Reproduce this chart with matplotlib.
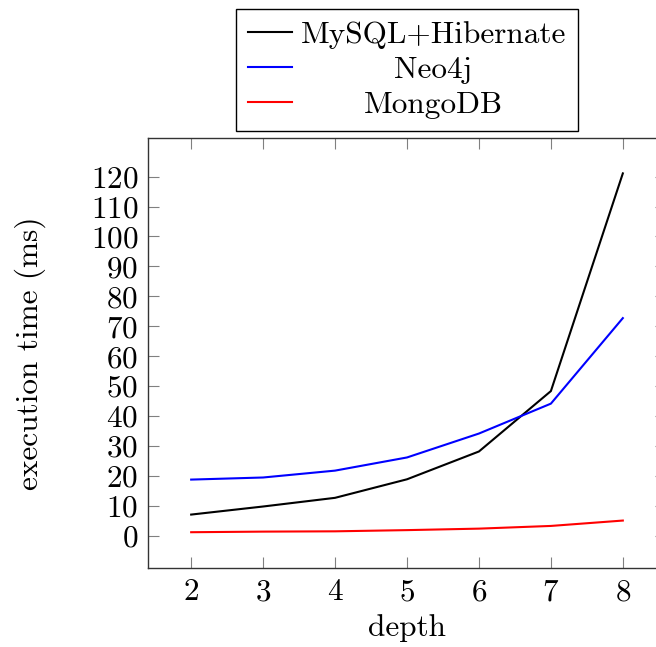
import numpy as np
import matplotlib
matplotlib.use("Agg")
import matplotlib.pyplot as plt

plt.rcParams['font.family'] = 'cmr10'
plt.rcParams['mathtext.fontset'] = 'cm'
plt.rcParams['axes.formatter.use_mathtext'] = True

depth = [2, 3, 4, 5, 6, 7, 8]
mysql = [7.0, 9.7, 12.6, 18.8, 28.1, 48.3, 121.1]
neo4j = [18.7, 19.4, 21.7, 26.1, 34.1, 44.1, 72.7]
mongo = [1.1, 1.3, 1.4, 1.8, 2.3, 3.2, 5.0]
names = ["MySQL+Hibernate", "Neo4j", "MongoDB"]

fs = 22.5
fig = plt.figure(figsize=(6.56, 6.47), dpi=100)
# right part of the axes is cut off by the figure edge, as in the original
ax = fig.add_axes([148/656, 1 - 568.4/647, 518/656, (568.4 - 137.8)/647])

ax.plot(depth, mysql, color='black', lw=1.5, label=names[0])
ax.plot(depth, neo4j, color='blue', lw=1.5, label=names[1])
ax.plot(depth, mongo, color='red', lw=1.5, label=names[2])

ax.set_xlim(1.4, 8.6)
ax.set_ylim(-11, 133)
ax.set_xticks(depth)
ax.set_yticks(np.arange(0, 121, 10))
ax.tick_params(direction='in', length=8, width=0.8, color='0.5',
               top=True, right=True, labelsize=fs, pad=7)
for s in ax.spines.values():
    s.set_linewidth(1.0)
    s.set_color('0.2')

ax.set_xlabel("depth", fontsize=fs, labelpad=6)
ax.set_ylabel("execution time (ms)", fontsize=fs, labelpad=32)

leg = ax.legend(loc='lower center', bbox_to_anchor=(0.5, 1.015), fontsize=fs,
                frameon=True, fancybox=False, edgecolor='black', framealpha=1,
                handlelength=1.4, handletextpad=0.28, labelspacing=0.22,
                borderpad=0.4, borderaxespad=0)
leg.get_frame().set_linewidth(1.0)

# center the legend entries like pgfplots does
fig.canvas.draw()
r = fig.canvas.get_renderer()
texts = leg.get_texts()
widths = [t.get_window_extent(r).width for t in texts]
wmax = max(widths)
for t, w in zip(texts, widths):
    t.set_position(((wmax - w) / 2, 0))

fig.savefig("out.png", dpi=100)
